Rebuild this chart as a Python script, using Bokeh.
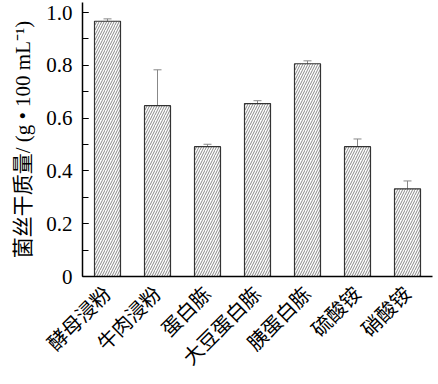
from bokeh.plotting import figure
from bokeh.models import FactorRange, Range1d, SingleIntervalTicker, Whisker, ColumnDataSource, TeeHead, NumeralTickFormatter
from bokeh.embed import file_html
from bokeh.resources import INLINE
import math

categories = ["酵母浸粉", "牛肉浸粉", "蛋白胨", "大豆蛋白胨", "胰蛋白胨", "硫酸铵", "硝酸铵"]
values = [0.967, 0.647, 0.492, 0.655, 0.806, 0.492, 0.332]
errors = [0.009, 0.136, 0.009, 0.011, 0.011, 0.029, 0.030]

upper = [v + e for v, e in zip(values, errors)]
lower = [v - e for v, e in zip(values, errors)]
src = ColumnDataSource(dict(cat=categories, val=values, upper=upper, lower=lower))

FONT = "Liberation Serif, Noto Sans CJK SC"

p = figure(width=438, height=384, x_range=FactorRange(*categories, range_padding=0),
           y_range=Range1d(0, 1.038), output_backend="svg", toolbar_location=None,
           min_border_left=82, min_border_right=6, min_border_top=2, min_border_bottom=108)
p.outline_line_color = None
p.xgrid.visible = False
p.ygrid.visible = False

p.vbar(x="cat", top="val", width=0.52, source=src, fill_color="white",
       line_color="#333333", line_width=1.2,
       hatch_pattern="right_diagonal_line", hatch_color="#555555",
       hatch_scale=5, hatch_weight=0.7)

w = Whisker(base="cat", upper="upper", lower="lower", source=src,
            line_color="#888888", line_width=1,
            upper_head=TeeHead(size=8, line_color="#888888", line_width=1),
            lower_head=TeeHead(size=8, line_color="#888888", line_width=1))
p.add_layout(w)

ya = p.yaxis[0]
ya.ticker = SingleIntervalTicker(interval=0.2, num_minor_ticks=2)
ya.formatter = NumeralTickFormatter(format="0.0")
ya.major_label_overrides = {0: "0"}
ya.major_tick_in = 6
ya.major_tick_out = 0
ya.minor_tick_in = 6
ya.minor_tick_out = 0
ya.axis_line_width = 1.5
ya.axis_line_color = "black"
ya.major_tick_line_color = "black"
ya.minor_tick_line_color = "black"
ya.major_label_text_font = FONT
ya.major_label_text_font_size = "21px"
ya.major_label_text_color = "black"
ya.major_label_standoff = 10
ya.axis_label = "菌丝干质量/ (g • 100 mL⁻¹)"
ya.axis_label_text_font = FONT
ya.axis_label_text_font_size = "21px"
ya.axis_label_text_font_style = "normal"
ya.axis_label_text_color = "black"
ya.axis_label_standoff = 8

xa = p.xaxis[0]
xa.major_tick_line_color = None
xa.minor_tick_line_color = None
xa.axis_line_width = 1.5
xa.axis_line_color = "black"
xa.major_label_orientation = math.pi / 4
xa.major_label_text_font = FONT
xa.major_label_text_font_size = "20px"
xa.major_label_text_color = "black"
xa.major_label_standoff = 8

open("out.html", "w").write(file_html(p, INLINE))
